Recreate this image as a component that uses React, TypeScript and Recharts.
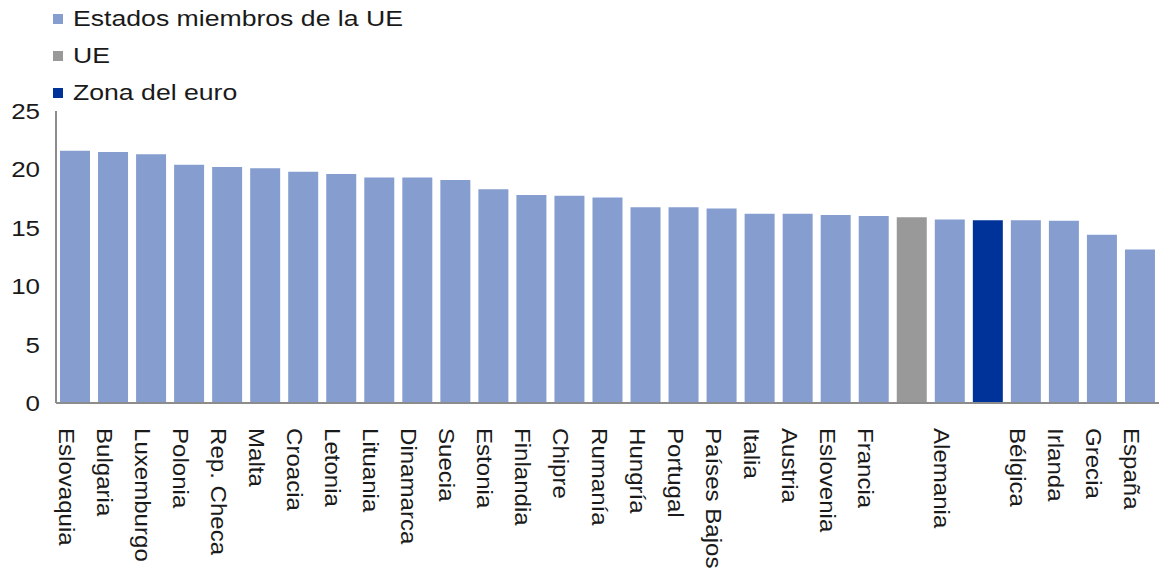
import { BarChart, Bar, XAxis, YAxis, Cell } from "recharts";

// tasa por país, ordenada de mayor a menor
const categories = [
  "Eslovaquia", "Bulgaria", "Luxemburgo", "Polonia", "Rep. Checa", "Malta", "Croacia",
  "Letonia", "Lituania", "Dinamarca", "Suecia", "Estonia", "Finlandia", "Chipre",
  "Rumanía", "Hungría", "Portugal", "Países Bajos", "Italia", "Austria", "Eslovenia",
  "Francia", "UE", "Alemania", "Zona del euro", "Bélgica", "Irlanda", "Grecia", "España",
];
const values = [
  21.6, 21.5, 21.3, 20.4, 20.2, 20.1, 19.8,
  19.6, 19.3, 19.3, 19.1, 18.3, 17.8, 17.75,
  17.6, 16.75, 16.75, 16.65, 16.2, 16.2, 16.1,
  16.0, 15.9, 15.7, 15.65, 15.65, 15.6, 14.4, 13.15,
];
// agregados: barra sin etiqueta en el eje
const aggregates = ["UE", "Zona del euro"];
const yTicks = [0, 5, 10, 15, 20, 25];

const legendItems = [
  { label: "Estados miembros de la UE", color: "#869ecf" },
  { label: "UE", color: "#999999" },
  { label: "Zona del euro", color: "#003399" },
];

const colorFor = (name: string) =>
  name === "UE" ? "#999999" : name === "Zona del euro" ? "#003399" : "#869ecf";

const data = categories.map((name, i) => ({ name, value: values[i] }));

const FONT = "'Liberation Sans', Arial, Helvetica, sans-serif";
const STRETCH = 1.18;

function XTick(props: any) {
  const { x, y, payload } = props;
  const label = aggregates.includes(payload.value) ? "" : payload.value;
  return (
    <g transform={`translate(${x - 16}, ${y + 17}) rotate(90) scale(1.12, 1)`}>
      <text x={0} y={0} textAnchor="start" fontSize={21.5} fontFamily={FONT} fill="#1a1a1a">
        {label}
      </text>
    </g>
  );
}

function YTick(props: any) {
  const { x, y, payload } = props;
  return (
    <g transform={`translate(${x}, ${y}) scale(${STRETCH}, 1)`}>
      <text x={0} y={0} dy="0.36em" textAnchor="end" fontSize={22} fontFamily={FONT} fill="#1a1a1a">
        {payload.value}
      </text>
    </g>
  );
}

export default function App() {
  return (
    <div style={{ position: "absolute", left: 0, top: 0, width: 1159, height: 575, background: "#fff" }}>
      <div style={{ position: "absolute", left: 53, top: 0, fontFamily: FONT, fontSize: 22, color: "#1a1a1a" }}>
        {legendItems.map((it) => (
          <div key={it.label} style={{ height: 37, display: "flex", alignItems: "center" }}>
            <span style={{ width: 10, height: 10, background: it.color, display: "inline-block", marginRight: 10 }} />
            <span style={{ display: "inline-block", transform: "scaleX(1.21)", transformOrigin: "left center", whiteSpace: "nowrap" }}>
              {it.label}
            </span>
          </div>
        ))}
      </div>
      <BarChart
        width={1159}
        height={575}
        data={data}
        margin={{ top: 111, right: 0, left: 0, bottom: 0 }}
        barSize={30}
      >
        <XAxis
          dataKey="name"
          interval={0}
          height={172}
          tickLine={false}
          axisLine={{ stroke: "#8c8c8c", strokeWidth: 2 }}
          tick={<XTick />}
        />
        <YAxis
          width={56}
          domain={[0, 25]}
          ticks={yTicks}
          tickLine={false}
          tickSize={0}
          tickMargin={16}
          axisLine={{ stroke: "#8c8c8c", strokeWidth: 2 }}
          tick={<YTick />}
        />
        <Bar dataKey="value" isAnimationActive={false}>
          {data.map((d) => (
            <Cell key={d.name} fill={colorFor(d.name)} />
          ))}
        </Bar>
      </BarChart>
    </div>
  );
}
